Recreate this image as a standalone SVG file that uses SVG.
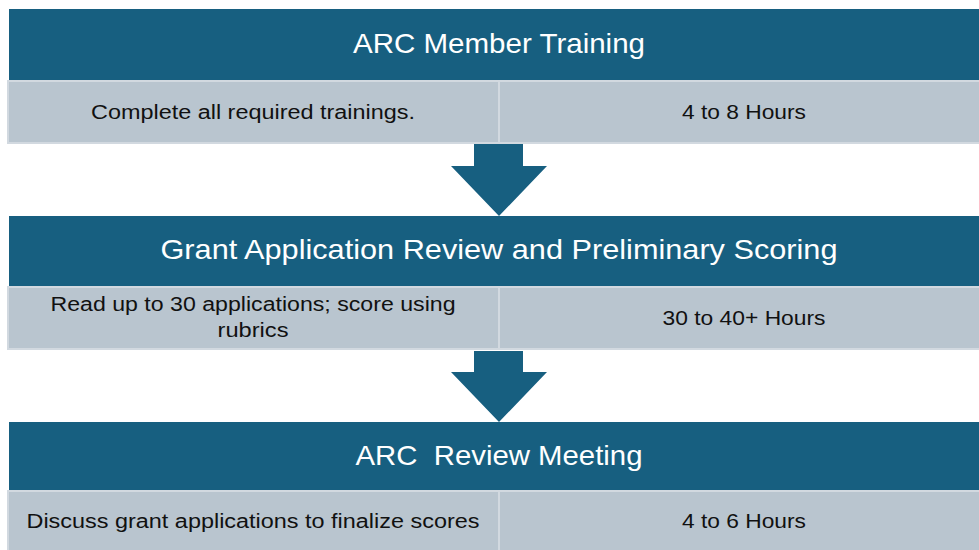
<svg xmlns="http://www.w3.org/2000/svg" width="979" height="550" viewBox="0 0 979 550">
<style>
.hdr{fill:#175f80}
.cell{fill:#b9c5cf;stroke:#d2d9e0;stroke-width:2}
.arr{fill:#175f80}
.ht{font-family:"Liberation Sans",Arial,sans-serif;font-size:28px;fill:#ffffff;text-anchor:middle}
.bt{font-family:"Liberation Sans",Arial,sans-serif;font-size:20px;fill:#111111;text-anchor:middle}
</style>
<rect width="979" height="550" fill="#ffffff"/>
<g id="connectors">
<polygon class="arr" points="474,144 523,144 523,166 547,166 499,216 451,166 474,166"/>
<polygon class="arr" points="474,351 523,351 523,372 547,372 499,422 451,372 474,372"/>
</g>
<g id="node1">
<rect class="hdr" x="9" y="9" width="975" height="71"/>
<text class="ht" x="499" y="53" textLength="292" lengthAdjust="spacingAndGlyphs">ARC Member Training</text>
<rect class="cell" x="8" y="81" width="491" height="62"/>
<rect class="cell" x="499" y="81" width="485" height="62"/>
<text class="bt" x="253" y="119" textLength="324" lengthAdjust="spacingAndGlyphs">Complete all required trainings.</text>
<text class="bt" x="744" y="119" textLength="124" lengthAdjust="spacingAndGlyphs">4 to 8 Hours</text>
</g>
<g id="node2">
<rect class="hdr" x="9" y="216" width="975" height="70"/>
<text class="ht" x="499" y="259" textLength="677" lengthAdjust="spacingAndGlyphs">Grant Application Review and Preliminary Scoring</text>
<rect class="cell" x="8" y="287" width="491" height="62"/>
<rect class="cell" x="499" y="287" width="485" height="62"/>
<text class="bt" x="253" y="311" textLength="405" lengthAdjust="spacingAndGlyphs">Read up to 30 applications; score using</text>
<text class="bt" x="253" y="337" textLength="71" lengthAdjust="spacingAndGlyphs">rubrics</text>
<text class="bt" x="744" y="325" textLength="163" lengthAdjust="spacingAndGlyphs">30 to 40+ Hours</text>
</g>
<g id="node3">
<rect class="hdr" x="9" y="422" width="975" height="68"/>
<text class="ht" x="499" y="465" textLength="287" lengthAdjust="spacingAndGlyphs" xml:space="preserve">ARC  Review Meeting</text>
<rect class="cell" x="8" y="491" width="491" height="64"/>
<rect class="cell" x="499" y="491" width="485" height="64"/>
<text class="bt" x="253" y="528" textLength="453" lengthAdjust="spacingAndGlyphs">Discuss grant applications to finalize scores</text>
<text class="bt" x="744" y="528" textLength="124" lengthAdjust="spacingAndGlyphs">4 to 6 Hours</text>
</g>
</svg>
